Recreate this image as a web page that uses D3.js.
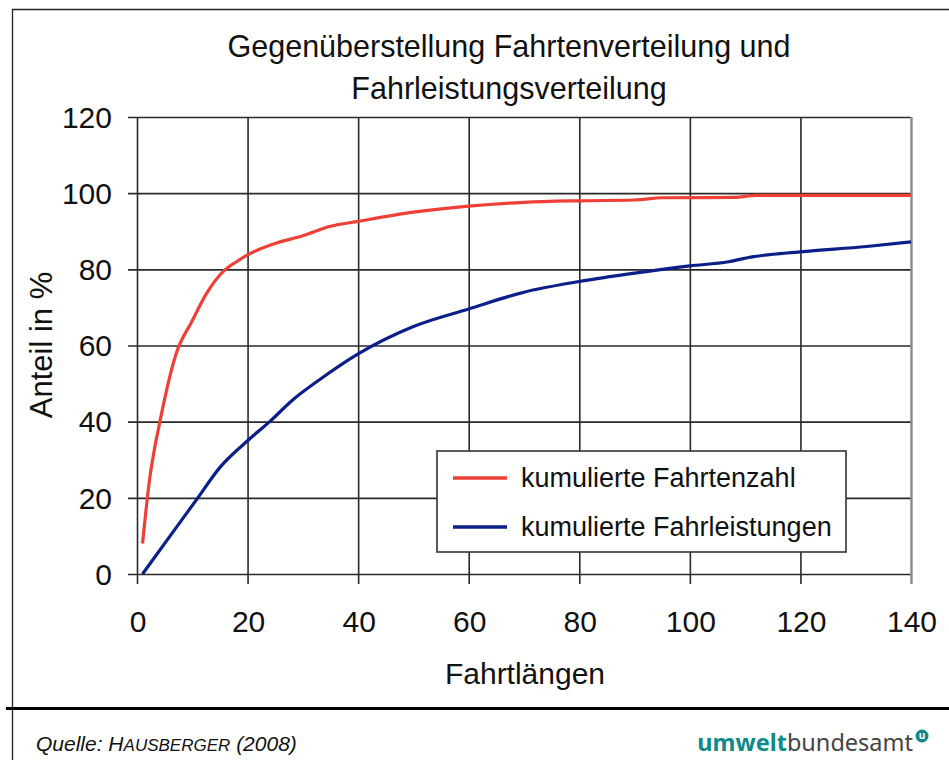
<!DOCTYPE html>
<html>
<head>
<meta charset="utf-8">
<script src="https://cdn.jsdelivr.net/npm/d3@7"></script>
<style>
  html, body { margin: 0; padding: 0; background: #fff; }
  svg { display: block; }
  text { font-family: "Liberation Sans", Arial, Helvetica, sans-serif; fill: #111; }
</style>
</head>
<body>
<svg id="chart" width="949" height="760"></svg>
<script>
// ---- data ----
const titleLines = ["Gegenüberstellung Fahrtenverteilung und", "Fahrleistungsverteilung"];
const xLabel = "Fahrtlängen";
const yLabel = "Anteil in %";
const xTicks = [0, 20, 40, 60, 80, 100, 120, 140];
const yTicks = [0, 20, 40, 60, 80, 100, 120];
const seriesNames = ["kumulierte Fahrtenzahl", "kumulierte Fahrleistungen"];
const seriesColors = ["#ee4036", "#0b1f8a"];

const fahrtenX = [1, 1.5, 2.2, 3, 4, 5, 7, 10, 12.5, 16, 18, 20, 25, 30, 35, 40, 50, 60, 70, 80, 90, 95, 108, 112, 120, 130, 140];
const fahrtenY = [8, 15, 24, 31.5, 39, 46, 57.5, 66.5, 73.5, 80, 82, 83.8, 86.8, 88.8, 91.3, 92.6, 95, 96.6, 97.6, 98, 98.2, 98.8, 98.9, 99.4, 99.4, 99.4, 99.4];

const leistungX = [1, 6, 11, 15, 20, 24, 28, 33, 40, 50, 60, 70, 80, 90, 100, 107, 111, 120, 132, 140];
const leistungY = [0, 10, 20, 28, 35, 40, 45.5, 51, 57.8, 65, 69.6, 74, 76.8, 79, 80.9, 82, 83.2, 84.6, 86, 87.2];

const sourceText = ["Quelle: H", "AUSBERGER", " (2008)"];

// ---- drawing ----
const svg = d3.select("#chart");
const plot = { left: 137, right: 911, top: 117, bottom: 574 };

const x = d3.scaleLinear().domain([0, 140]).range([plot.left, plot.right]);
const y = d3.scaleLinear().domain([0, 120]).range([plot.bottom, plot.top]);

// outer frame
svg.append("line").attr("x1", 12).attr("x2", 949).attr("y1", 9.5).attr("y2", 9.5)
  .attr("stroke", "#222").attr("stroke-width", 1.3);
svg.append("line").attr("x1", 12.5).attr("x2", 12.5).attr("y1", 9).attr("y2", 760)
  .attr("stroke", "#222").attr("stroke-width", 1.3);
svg.append("line").attr("x1", 6).attr("x2", 949).attr("y1", 708.5).attr("y2", 708.5)
  .attr("stroke", "#000").attr("stroke-width", 3);

// title
svg.append("text").attr("x", 509).attr("y", 57).attr("text-anchor", "middle")
  .style("font-size", "30.5px").text(titleLines[0]);
svg.append("text").attr("x", 509).attr("y", 99).attr("text-anchor", "middle")
  .style("font-size", "30.5px").text(titleLines[1]);

// grid via axes
const gridColor = "#2a2a2a";
const yAxis = d3.axisLeft(y).tickValues(yTicks).tickSize(-(plot.right - plot.left)).tickPadding(0).tickFormat("");
const gy = svg.append("g").attr("transform", `translate(${plot.left},0)`).call(yAxis);
gy.select(".domain").remove();
gy.selectAll(".tick line").attr("x1", -9).attr("stroke", gridColor).attr("stroke-width", 1.6);

const xAxis = d3.axisBottom(x).tickValues(xTicks).tickSize(-(plot.bottom - plot.top)).tickFormat("");
const gx = svg.append("g").attr("transform", `translate(0,${plot.bottom})`).call(xAxis);
gx.select(".domain").remove();
gx.selectAll(".tick line").attr("y1", 10).attr("stroke", gridColor).attr("stroke-width", 1.6);
gx.selectAll(".tick").filter(d => d === 140).select("line").attr("stroke", "#8a8a8a").attr("stroke-width", 2.4);

// tick labels
svg.append("g").selectAll("text").data(yTicks).join("text")
  .attr("x", 112).attr("y", d => y(d)).attr("dy", "0.36em").attr("text-anchor", "end")
  .style("font-size", "30px").text(d => d);
svg.append("g").selectAll("text").data(xTicks).join("text")
  .attr("x", d => x(d) + 1).attr("y", 632).attr("text-anchor", "middle")
  .style("font-size", "30px").text(d => d);

// axis titles
svg.append("text").attr("x", 525).attr("y", 684).attr("text-anchor", "middle")
  .style("font-size", "30px").text(xLabel);
svg.append("text").attr("transform", "translate(52,345) rotate(-90)").attr("text-anchor", "middle")
  .style("font-size", "31px").text(yLabel);

// lines
const line = d3.line().x(d => x(d[0])).y(d => y(d[1])).curve(d3.curveMonotoneX);
const fahrten = fahrtenX.map((v, i) => [v, fahrtenY[i]]);
const leistung = leistungX.map((v, i) => [v, leistungY[i]]);
svg.append("path").datum(leistung).attr("d", line).attr("fill", "none")
  .attr("stroke", seriesColors[1]).attr("stroke-width", 3.2).attr("stroke-linejoin", "round");
svg.append("path").datum(fahrten).attr("d", line).attr("fill", "none")
  .attr("stroke", seriesColors[0]).attr("stroke-width", 3.2).attr("stroke-linejoin", "round");

// legend
const lg = svg.append("g");
lg.append("rect").attr("x", 437).attr("y", 451).attr("width", 409).attr("height", 101)
  .attr("fill", "#fff").attr("stroke", "#333").attr("stroke-width", 1.6);
const legendRows = [478, 527];
seriesNames.forEach((n, i) => {
  lg.append("line").attr("x1", 453).attr("x2", 507).attr("y1", legendRows[i]).attr("y2", legendRows[i])
    .attr("stroke", seriesColors[i]).attr("stroke-width", 3.5);
  lg.append("text").attr("x", 521).attr("y", legendRows[i]).attr("dy", "0.35em")
    .style("font-size", "27px").text(n);
});

// footer source
const src = svg.append("text").attr("x", 36).attr("y", 751).style("font-size", "21px").style("font-style", "italic");
src.append("tspan").text(sourceText[0]);
src.append("tspan").style("font-size", "17px").text(sourceText[1]);
src.append("tspan").text(sourceText[2]);

// footer logo
const logo = svg.append("text").attr("x", 913).attr("y", 751).attr("text-anchor", "end")
  .style("font-family", "'Noto Sans', 'Open Sans', sans-serif").style("font-size", "23.5px");
logo.append("tspan").style("font-weight", "bold").style("fill", "#0e8a8a").text("umwelt");
logo.append("tspan").style("fill", "#444").text("bundesamt");
svg.append("circle").attr("cx", 922).attr("cy", 736).attr("r", 6.5).attr("fill", "#0e8a8a");
svg.append("text").attr("x", 922).attr("y", 736).attr("dy", "0.33em").attr("text-anchor", "middle")
  .style("font-family", "'Noto Sans', sans-serif").style("font-size", "10px").style("font-weight", "bold")
  .style("fill", "#fff").text("u");
</script>
</body>
</html>
